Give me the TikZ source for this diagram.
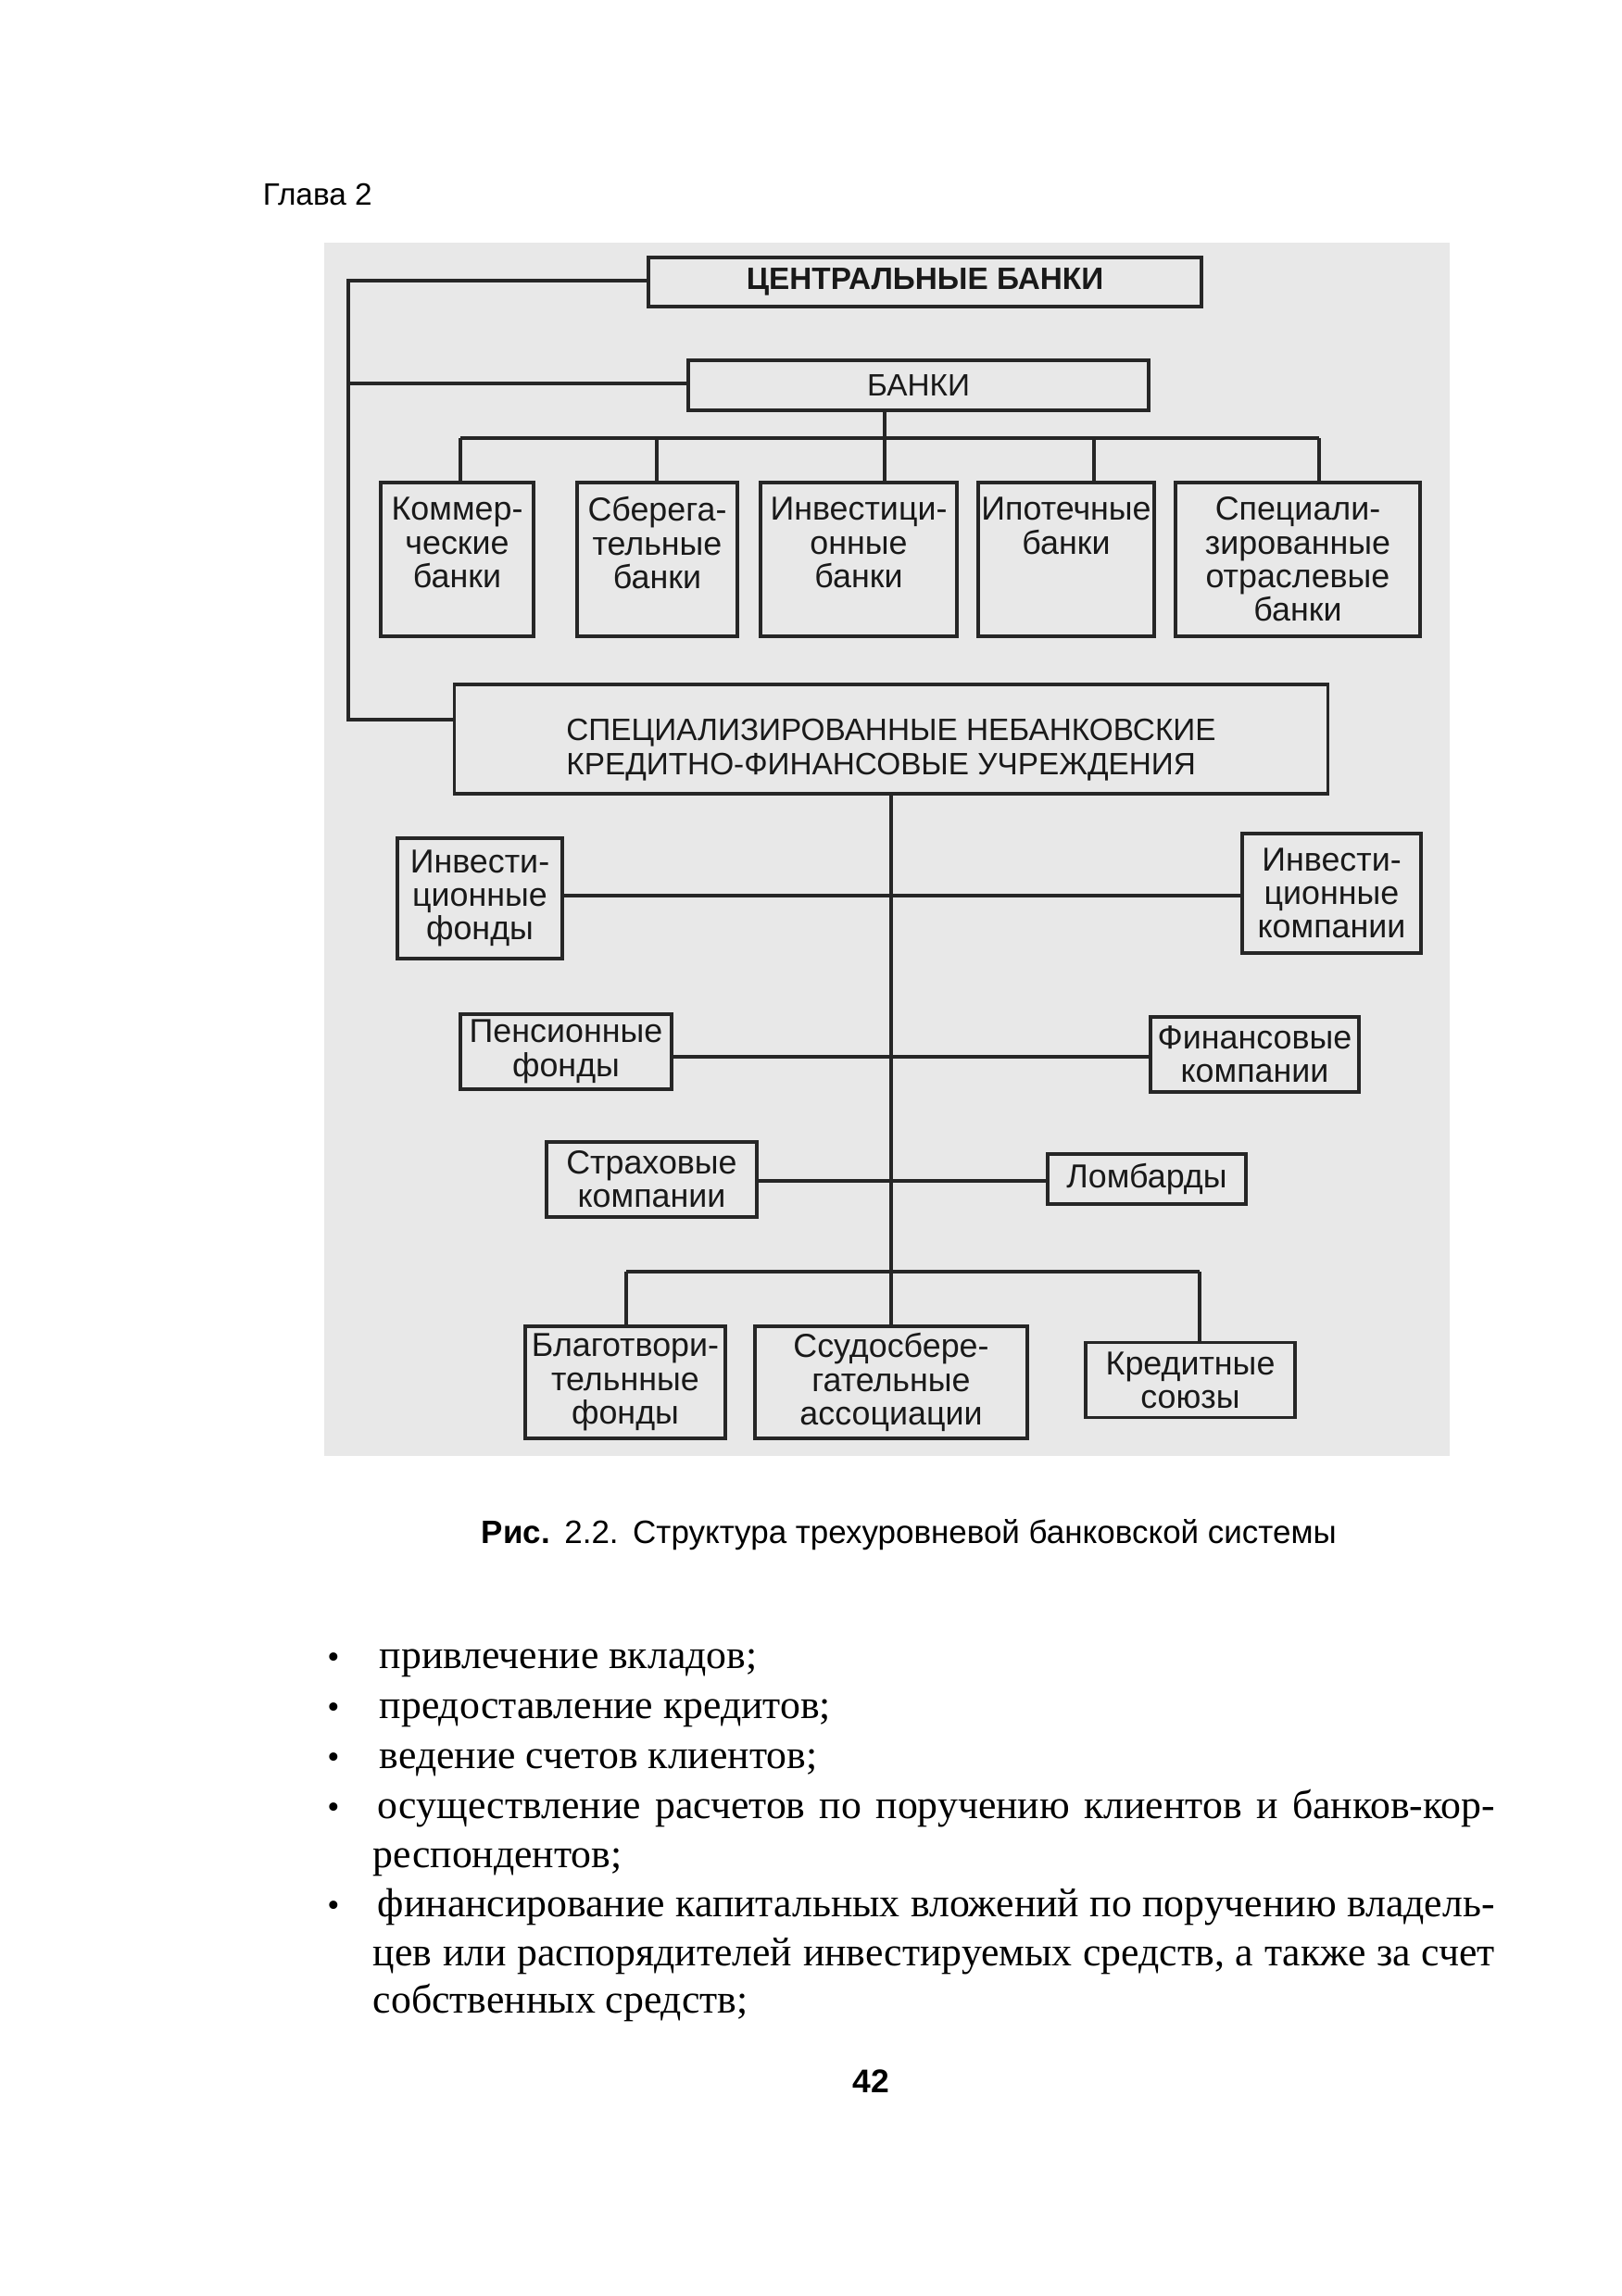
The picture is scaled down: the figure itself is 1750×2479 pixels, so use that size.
\documentclass[tikz,border=0pt]{standalone}
\usepackage{fontspec}
\usepackage{graphicx}
\setmainfont{Liberation Serif}
\setsansfont{Liberation Sans}
\begin{document}
\begin{tikzpicture}[x=0.24pt,y=-0.24pt,
  box/.style={draw=black!85, line width=0.9pt, inner sep=0pt, align=center,
    text=black!90, font=\sffamily\fontsize{8.6}{8.7}\selectfont},
  sz/.style 2 args={minimum width={#1*0.24pt}, minimum height={#2*0.24pt}},
  link/.style={draw=black!85, line width=0.85pt},
  body/.style={anchor=base west, inner sep=0pt, text=black,
    font=\rmfamily\fontsize{10.5}{12}\selectfont},
  bul/.style={anchor=base, inner sep=0pt, text=black,
    font=\rmfamily\fontsize{9}{12}\selectfont}]
\useasboundingbox (0,0) rectangle (1750,2479);
\fill[white] (0,0) rectangle (1750,2479);
% scanned grey field behind the figure
\fill[black!9] (350,262) rectangle (1565,1572);

% header
\node[anchor=base west, inner sep=0pt, font=\sffamily\fontsize{8}{9}\selectfont] (hdr) at (283,222) {Глава 2};

% top level
\node[box, sz={597}{53}, font=\sffamily\bfseries\fontsize{8}{9}\selectfont] (cb) at (998.5,304.5) {ЦЕНТРАЛЬНЫЕ БАНКИ};
\node[box, sz={497}{54}, font=\sffamily\fontsize{8}{9}\selectfont] (banki) at (991.5,416) {БАНКИ};

% banks
\node[box, sz={165}{166}] (kom) at (493.5,604) {Коммер-\\ческие\\банки\\\mbox{}};
\node[box, sz={173}{166}] (sber) at (709.5,604) {Сберега-\\тельные\\банки\\\mbox{}};
\node[box, sz={212}{166}] (inv) at (927,604) {Инвестици-\\онные\\банки\\\mbox{}};
\node[box, sz={190}{166}] (ipot) at (1151,604) {Ипотечные\\банки\\\mbox{}\\\mbox{}};
\node[box, sz={264}{166}] (spec) at (1401,604) {Специали-\\зированные\\отраслевые\\банки};

% non-bank institutions
\node[box, sz={943}{118}] (snk) at (962,798) {};
\node[inner sep=0pt, align=left, text=black!90, font=\sffamily\fontsize{8}{8.9}\selectfont] (snkt) at (962,810)
  {СПЕЦИАЛИЗИРОВАННЫЕ НЕБАНКОВСКИЕ\\КРЕДИТНО-ФИНАНСОВЫЕ УЧРЕЖДЕНИЯ};

\node[box, sz={178}{130}] (invf) at (518,970) {Инвести-\\ционные\\фонды};
\node[box, sz={193}{129}] (invk) at (1437.5,964.5) {Инвести-\\ционные\\компании};
\node[box, sz={228}{81}] (pens) at (611,1135.5) {Пенсионные\\фонды};
\node[box, sz={225}{81}] (fin) at (1354.5,1138.5) {Финансовые\\компании};
\node[box, sz={227}{81}] (strah) at (703.5,1273.5) {Страховые\\компании};
\node[box, sz={214}{54}] (lomb) at (1238,1273) {Ломбарды};
\node[box, sz={216}{121}] (blag) at (675,1492.5) {Благотвори-\\тельнные\\фонды};
\node[box, sz={294}{121}] (ssudo) at (962,1492.5) {Ссудосбере-\\гательные\\ассоциации};
\node[box, sz={226}{81}] (kred) at (1285,1490) {Кредитные\\союзы};

% left spine
\coordinate (lt) at (376,303);
\coordinate (lm) at (376,414);
\coordinate (lb) at (376,777);
\draw[link] (cb.west |- lt) -- (lt) -- (lb) -- (lb -| snk.west);
\draw[link] (lm) -- (lm -| banki.west);

% banks bus
\coordinate (b1) at (497,473);
\coordinate (b2) at (709,473);
\coordinate (b3) at (955,473);
\coordinate (b4) at (1181,473);
\coordinate (b5) at (1424,473);
\draw[link] (b1) -- (b5);
\draw[link] (banki.south -| b3) -- (b3 |- inv.north);
\draw[link] (b1) -- (b1 |- kom.north);
\draw[link] (b2) -- (b2 |- sber.north);
\draw[link] (b4) -- (b4 |- ipot.north);
\draw[link] (b5) -- (b5 |- spec.north);

% non-bank tree
\draw[link] (snk.south) -- (snk.south |- ssudo.north);
\coordinate (h1) at (962,967);
\coordinate (h2) at (962,1141);
\coordinate (h3) at (962,1275);
\draw[link] (h1 -| invf.east) -- (h1 -| invk.west);
\draw[link] (h2 -| pens.east) -- (h2 -| fin.west);
\draw[link] (h3 -| strah.east) -- (h3 -| lomb.west);
\coordinate (u1) at (676,1373);
\coordinate (u3) at (1295,1373);
\draw[link] (u1) -- (u3);
\draw[link] (u1) -- (u1 |- blag.north);
\draw[link] (u3) -- (u3 |- kred.north);

% caption
\node[anchor=base west, inner sep=0pt, font=\sffamily\fontsize{7.5}{9}\selectfont] (cap) at (519,1666)
  {\resizebox{221.5pt}{!}{\textbf{Рис.}~\,2.2.~\,Структура трехуровневой банковской системы}};

% bullet list
\node[bul] (d1) at (360,1801) {•};
\node[bul] (d2) at (360,1855) {•};
\node[bul] (d3) at (360,1909) {•};
\node[bul] (d4) at (360,1963) {•};
\node[bul] (d5) at (360,2069) {•};
\node[body] (t1) at (409,1801) {привлечение вкладов;};
\node[body] (t2) at (409,1855) {предоставление кредитов;};
\node[body] (t3) at (409,1909) {ведение счетов клиентов;};
\node[body] (t4) at (407,1963) {\makebox[289.4pt][s]{осуществление расчетов по поручению клиентов и банков-кор-}};
\node[body] (t5) at (402,2016) {респондентов;};
\node[body] (t6) at (407,2069) {\makebox[289.4pt][s]{финансирование капитальных вложений по поручению владель-}};
\node[body] (t7) at (402,2122) {\makebox[290.6pt][s]{цев или распорядителей инвестируемых средств, а также за счет}};
\node[body] (t8) at (402,2173) {собственных средств;};

% page number
\node[anchor=base, inner sep=0pt, font=\sffamily\bfseries\fontsize{8.5}{10}\selectfont] (pg) at (940,2259) {42};
\end{tikzpicture}
\end{document}
